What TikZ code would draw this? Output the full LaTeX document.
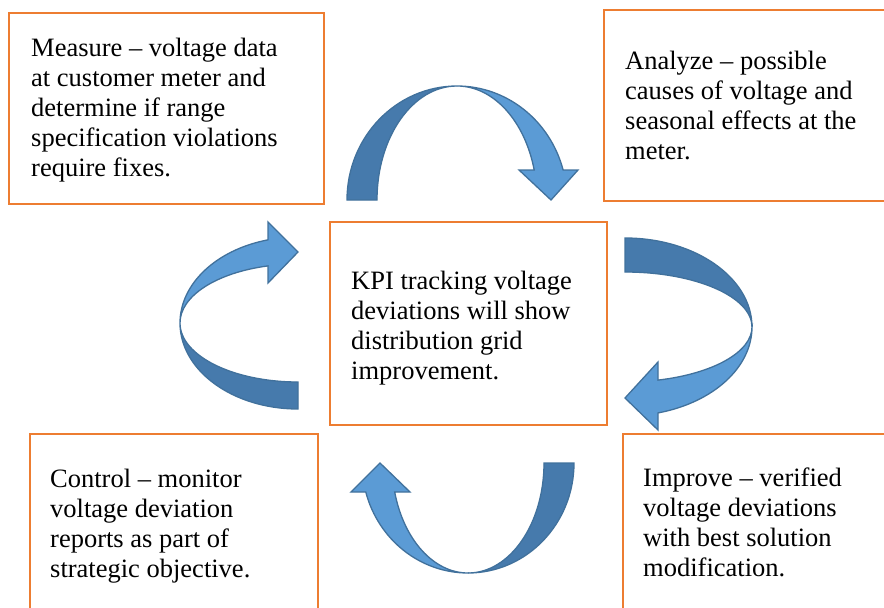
\documentclass[tikz,border=0pt]{standalone}
\usepackage{fontspec}
\setmainfont{Liberation Serif}
\definecolor{boxorange}{RGB}{237,125,49}
\definecolor{frontblue}{RGB}{91,155,213}
\definecolor{backblue}{RGB}{70,122,172}
\definecolor{rimblue}{RGB}{65,113,156}

\begin{document}
\begin{tikzpicture}[x=1pt,y=-1pt,
  box/.style={draw=boxorange, line width=2.5pt, fill=white, rectangle, inner sep=0pt},
  boxtext/.style={anchor=base west, inner sep=0pt, font=\fontsize{26.5}{30}\selectfont},
  back/.style={fill=backblue, draw=rimblue, line width=1.3pt},
  front/.style={fill=frontblue, draw=rimblue, line width=1.3pt}]
\useasboundingbox (0,0) rectangle (884,608);
\clip (0,0) rectangle (884,608);

% frames of the five steps
\node[box, minimum width=315pt, minimum height=191pt] (measure) at (166.5,108.5) {};
\node[box, minimum width=306pt, minimum height=191pt] (analyze) at (757,105.5) {};
\node[box, minimum width=277pt, minimum height=203pt] (kpi) at (468.5,323.5) {};
\node[box, minimum width=288pt, minimum height=206pt] (control) at (174,537) {};
\node[box, minimum width=287pt, minimum height=206pt] (improve) at (766.5,537) {};

% texts
\node[boxtext] (measuretext) at (31,56) {\begin{tabular}[t]{@{}l@{}}Measure – voltage data\\at customer meter and\\determine if range\\specification violations\\require fixes.\end{tabular}};
\node[boxtext] (analyzetext) at (625,69) {\begin{tabular}[t]{@{}l@{}}Analyze – possible\\causes of voltage and\\seasonal effects at the\\meter.\end{tabular}};
\node[boxtext] (kpitext) at (351,289) {\begin{tabular}[t]{@{}l@{}}KPI tracking voltage\\deviations will show\\distribution grid\\improvement.\end{tabular}};
\node[boxtext] (controltext) at (50,487) {\begin{tabular}[t]{@{}l@{}}Control – monitor\\voltage deviation\\reports as part of\\strategic objective.\end{tabular}};
\node[boxtext] (improvetext) at (643,486) {\begin{tabular}[t]{@{}l@{}}Improve – verified\\voltage deviations\\with best solution\\modification.\end{tabular}};

% top curved arrow (Measure -> Analyze)
\draw[back] (347,200) arc[start angle=180,end angle=270,x radius=110,y radius=114]
  arc[start angle=270,end angle=180,x radius=80,y radius=114] -- cycle;
\draw[front] (457,86) arc[start angle=270,end angle=344.74,x radius=110,y radius=114]
  -- (578,170) -- (551,200) -- (519,170) -- (534.2,170)
  arc[start angle=344.74,end angle=270,x radius=80,y radius=114] -- cycle;

% right curved arrow (Analyze -> Improve)
\draw[back] (625,238) arc[start angle=270,end angle=360,x radius=127,y radius=89]
  arc[start angle=0,end angle=-90,x radius=127,y radius=55] -- cycle;
\draw[front] (752,327) arc[start angle=0,end angle=74.94,x radius=127,y radius=89]
  -- (658,430) -- (625,398) -- (658,362) -- (658,380.1)
  arc[start angle=74.94,end angle=0,x radius=127,y radius=55] -- cycle;

% bottom curved arrow (Improve -> Control)
\draw[back] (574,463) arc[start angle=0,end angle=90,x radius=106,y radius=110]
  arc[start angle=90,end angle=0,x radius=76,y radius=110] -- cycle;
\draw[front] (468,573) arc[start angle=90,end angle=164.71,x radius=106,y radius=110]
  -- (351,492) -- (380,463) -- (410,492) -- (394.7,492)
  arc[start angle=164.71,end angle=90,x radius=76,y radius=110] -- cycle;

% left curved arrow (Control -> Measure)
\draw[back] (180,323) arc[start angle=180,end angle=90,x radius=118,y radius=86]
  -- (298,382) arc[start angle=90,end angle=180,x radius=118,y radius=59] -- cycle;
\draw[front] (180,323) arc[start angle=180,end angle=255.27,x radius=118,y radius=86]
  -- (268,222) -- (298,252) -- (268,283) -- (268,265.9)
  arc[start angle=255.27,end angle=180,x radius=118,y radius=59] -- cycle;
\end{tikzpicture}
\end{document}
